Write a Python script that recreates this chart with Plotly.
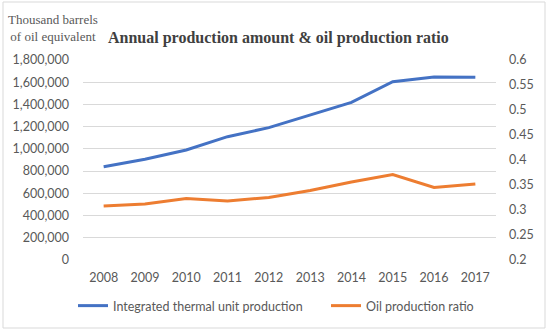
import plotly.graph_objects as go

years = ["2008", "2009", "2010", "2011", "2012", "2013", "2014", "2015", "2016", "2017"]
thermal_production = [840000, 906000, 990000, 1110000, 1191000, 1305000, 1419000, 1605000, 1647000, 1644000]
oil_ratio = [0.308, 0.312, 0.323, 0.318, 0.325, 0.339, 0.356, 0.371, 0.345, 0.352]
left_ticks = [0, 200000, 400000, 600000, 800000, 1000000, 1200000, 1400000, 1600000, 1800000]
right_ticks = [0.2, 0.25, 0.3, 0.35, 0.4, 0.45, 0.5, 0.55, 0.6]

tick_font = dict(family="Lato, Carlito, Liberation Sans, sans-serif", size=12.5, color="#595959")
serif = "Palatino Linotype, Book Antiqua, Palatino, Liberation Serif, serif"

L, R, T, B = 83, 496, 60, 260
PW, PH = R - L, B - T


def px(x):
    return (x - L) / PW


def py(y):
    return (B - y) / PH


fig = go.Figure()
fig.add_trace(go.Scatter(x=years, y=thermal_production, mode="lines",
                         name="Integrated thermal unit production", legend="legend",
                         line=dict(color="#4472C4", width=3)))
fig.add_trace(go.Scatter(x=years, y=oil_ratio, mode="lines", yaxis="y2",
                         name="Oil production ratio", legend="legend2",
                         line=dict(color="#ED7D31", width=3)))

legend_common = dict(orientation="h", yanchor="middle", y=py(306), xanchor="left",
                     font=tick_font, itemwidth=30, bgcolor="rgba(0,0,0,0)")

fig.update_layout(
    width=550, height=333,
    margin=dict(l=L, r=550 - R, t=T, b=333 - B, autoexpand=False),
    paper_bgcolor="white", plot_bgcolor="white",
    showlegend=True,
    legend=dict(legend_common, x=px(73)),
    legend2=dict(legend_common, x=px(326)),
    xaxis=dict(type="category", range=[-0.5, 9.5], showgrid=False, zeroline=False,
               showline=False, ticks="", tickfont=tick_font, automargin=False,
               ticklabelstandoff=8),
    yaxis=dict(range=[0, 1800000], tickvals=left_ticks, tickformat=",d",
               showgrid=True, gridcolor="#d9d9d9", gridwidth=1, zeroline=False,
               showline=False, ticks="", tickfont=tick_font, ticklabelstandoff=13,
               automargin=False),
    yaxis2=dict(range=[0.2, 0.6], tickvals=right_ticks, overlaying="y", side="right",
                showgrid=False, zeroline=False, showline=False, ticks="",
                tickfont=tick_font, ticklabelstandoff=12, automargin=False),
    annotations=[
        dict(text="<b>Annual production amount & oil production ratio</b>",
             xref="paper", yref="paper", x=px(278), y=py(38),
             xanchor="center", yanchor="middle", showarrow=False,
             font=dict(family=serif, size=16, color="#404040")),
        dict(text="Thousand barrels<br>of oil equivalent",
             xref="paper", yref="paper", x=px(53), y=py(28),
             xanchor="center", yanchor="middle", showarrow=False, align="center",
             font=dict(family=serif, size=13, color="#595959")),
    ],
    shapes=[
        dict(type="rect", xref="paper", yref="paper",
             x0=px(3), x1=px(545), y0=py(328), y1=py(2),
             line=dict(color="#d9d9d9", width=1), fillcolor="rgba(0,0,0,0)", layer="below"),
    ],
)

fig.write_html("out.html", config={"displayModeBar": False},
               post_script="document.body.style.margin='0';document.body.style.padding='0';")
